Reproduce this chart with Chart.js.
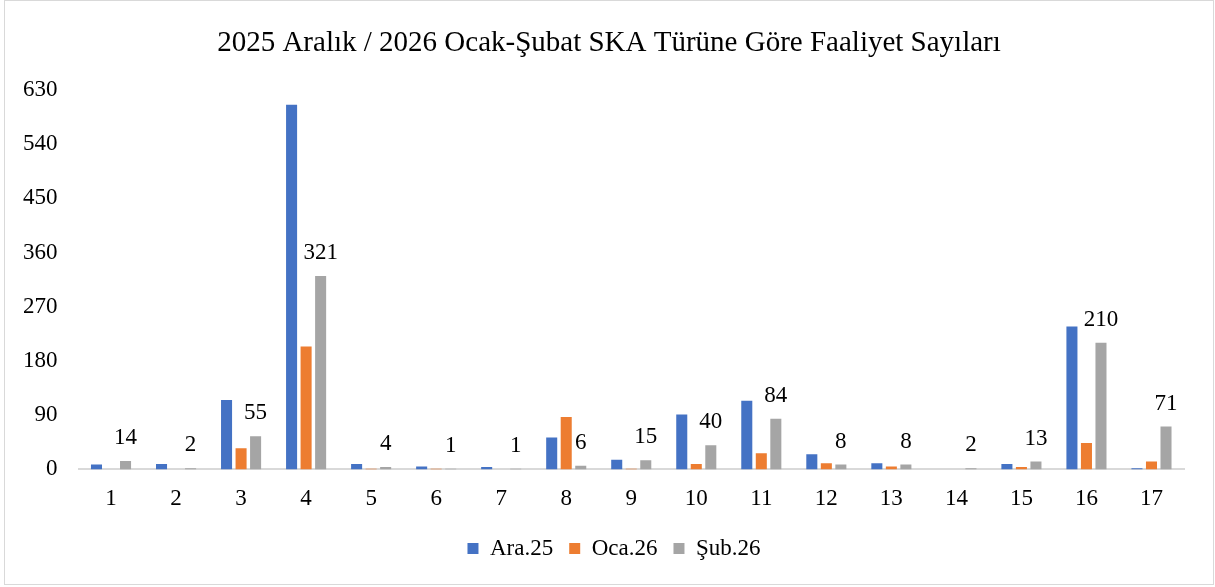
<!DOCTYPE html>
<html>
<head>
<meta charset="utf-8">
<script src="https://cdn.jsdelivr.net/npm/chart.js@4/dist/chart.umd.min.js"></script>
<style>
  html, body { margin: 0; padding: 0; background: #fff; }
  #wrap { position: relative; width: 1215px; height: 587px; }
  #frame { position: absolute; left: 4px; top: 0; width: 1210px; height: 585px; border: 1px solid #d9d9d9; box-sizing: border-box; }
  canvas { position: absolute; left: 0; top: 0; }
</style>
</head>
<body>
<div id="wrap">
  <div id="frame"></div>
  <canvas id="barChart" width="1215" height="587"></canvas>
</div>
<script>
let categories = ['1','2','3','4','5','6','7','8','9','10','11','12','13','14','15','16','17'];
let seriesNames = ['Ara.25', 'Oca.26', 'Şub.26'];
let ara25 = [8, 9, 115, 605, 9, 5, 4, 53, 16, 91, 114, 25, 10, 0, 9, 237, 2];
let oca26 = [0, 0, 35, 204, 1, 1, 0, 87, 1, 9, 27, 10, 5, 0, 4, 44, 13];
let sub26 = [14, 2, 55, 321, 4, 1, 1, 6, 15, 40, 84, 8, 8, 2, 13, 210, 71];
let colorHex = ['#4472C4', '#ED7D31', '#A5A5A5'];

let serif = "'Liberation Serif', 'Times New Roman', serif";

// labels only on the last series, above the bar
let valueLabels = {
    id: 'valueLabels',
    afterDatasetsDraw(chart) {
        let ctx = chart.ctx;
        let meta = chart.getDatasetMeta(2);
        ctx.save();
        ctx.font = '23px ' + serif;
        ctx.fillStyle = '#000';
        ctx.textAlign = 'center';
        ctx.textBaseline = 'alphabetic';
        meta.data.forEach((bar, i) => {
            ctx.fillText(sub26[i], bar.x, bar.y - 17);
        });
        ctx.restore();
    }
};

// title and legend sit a bit right of the canvas centre in the original
let nudgeBoxes = {
    id: 'nudgeBoxes',
    afterLayout(chart) {
        chart.titleBlock.left += 12;
        chart.titleBlock.right += 12;
        chart.legend.left += 17;
        chart.legend.right += 17;
    }
};

let ctx = document.getElementById('barChart').getContext('2d');
let myChart = new Chart(ctx, {
    type: 'bar',
    data: {
        labels: categories,
        datasets: [
            { label: seriesNames[0], data: ara25, backgroundColor: colorHex[0] },
            { label: seriesNames[1], data: oca26, backgroundColor: colorHex[1] },
            { label: seriesNames[2], data: sub26, backgroundColor: colorHex[2] }
        ]
    },
    options: {
        responsive: false,
        animation: false,
        datasets: {
            bar: { categoryPercentage: 0.67, barPercentage: 0.76 }
        },
        layout: {
            padding: { left: 10, right: 31, top: 16, bottom: 17 }
        },
        plugins: {
            title: {
                display: true,
                text: '2025 Aralık / 2026 Ocak-Şubat SKA Türüne Göre Faaliyet Sayıları',
                color: '#000',
                font: { family: serif, size: 29, weight: 'normal' },
                padding: { top: 10, bottom: 29 }
            },
            legend: {
                position: 'bottom',
                labels: {
                    color: '#000',
                    font: { family: serif, size: 23 },
                    boxWidth: 11,
                    boxHeight: 11,
                    padding: 16
                }
            },
            tooltip: { enabled: false }
        },
        scales: {
            x: {
                grid: { display: false },
                border: { color: '#d9d9d9', width: 2 },
                ticks: {
                    color: '#000',
                    font: { family: serif, size: 23 },
                    padding: 8
                }
            },
            y: {
                min: 0,
                max: 630,
                grid: { display: false },
                border: { display: false },
                ticks: {
                    stepSize: 90,
                    color: '#000',
                    font: { family: serif, size: 23 },
                    padding: 13
                }
            }
        }
    },
    plugins: [valueLabels, nudgeBoxes]
});
</script>
</body>
</html>
